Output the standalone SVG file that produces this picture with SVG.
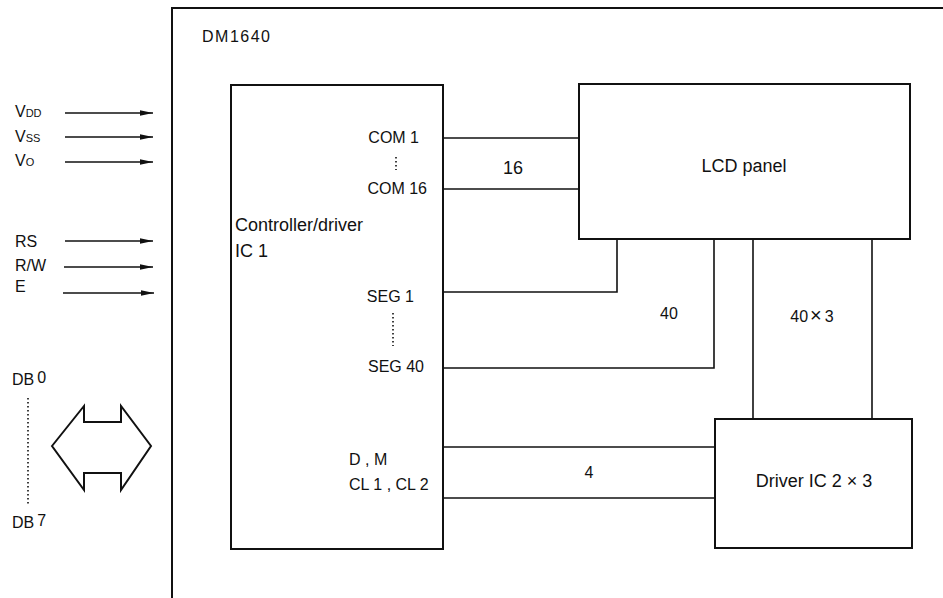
<svg xmlns="http://www.w3.org/2000/svg" width="943" height="598" viewBox="0 0 943 598">
<style>
text{font-family:"Liberation Sans",Arial,sans-serif;fill:#111}
.box{fill:none;stroke:#111;stroke-width:2}
.wire{fill:none;stroke:#111;stroke-width:1.6}
.big{font-size:18px}
.mid{font-size:16px}
.pin{font-size:16px}
.sub{font-size:11px}
.dots{fill:none;stroke:#111;stroke-width:1.6;stroke-dasharray:1.6 2.4}
</style>
<defs>
<marker id="ah" markerUnits="userSpaceOnUse" markerWidth="14" markerHeight="8" refX="13" refY="4" orient="auto">
<path d="M0,1.2 L13,4 L0,6.8 Z" fill="#111"/>
</marker>
</defs>
<rect width="943" height="598" fill="#fff"/>

<g id="module">
<path class="box" d="M172,598 L172,8 L943,8"/>
<text class="mid" x="202" y="42" letter-spacing="1.5">DM1640</text>
</g>

<g id="inputs">
<text class="mid" x="15" y="117">V<tspan class="sub">DD</tspan></text>
<text class="mid" x="15" y="142">V<tspan class="sub">SS</tspan></text>
<text class="mid" x="15" y="166">V<tspan class="sub">O</tspan></text>
<text class="mid" x="15" y="247">RS</text>
<text class="mid" x="15" y="271">R/W</text>
<text class="mid" x="15" y="292">E</text>
<text class="mid" x="12" y="385">DB<tspan dx="3" dy="-2">0</tspan></text>
<text class="mid" x="12" y="528">DB<tspan dx="3" dy="-2">7</tspan></text>
<line class="dots" x1="28" y1="398" x2="28" y2="505"/>
<polygon class="box" points="52,446 84,406 84,422 121,422 121,406 151,446 121,490 121,473 84,473 84,490"/>
</g>

<g id="controller">
<rect class="box" x="231" y="85" width="212" height="464"/>
<text class="big" x="235" y="231">Controller/driver</text>
<text class="big" x="235" y="257">IC 1</text>
<text class="pin" x="419" y="143" text-anchor="end">COM 1</text>
<line class="dots" x1="396" y1="157" x2="396" y2="170"/>
<text class="pin" x="427" y="194" text-anchor="end">COM 16</text>
<text class="pin" x="414" y="302" text-anchor="end">SEG 1</text>
<line class="dots" x1="393" y1="313" x2="393" y2="346"/>
<text class="pin" x="424" y="372" text-anchor="end">SEG 40</text>
<text class="pin" x="349" y="465">D , M</text>
<text class="pin" x="349" y="490">CL 1 , CL 2</text>
</g>

<g id="lcd">
<rect class="box" x="579" y="84" width="331" height="155"/>
<text class="big" x="744" y="172" text-anchor="middle">LCD panel</text>
</g>

<g id="driver">
<rect class="box" x="715" y="419" width="197" height="129"/>
<text class="big" x="814" y="487" text-anchor="middle">Driver IC 2 × 3</text>
</g>

<g id="connectors">
<line class="wire" x1="65" y1="113" x2="153" y2="113" marker-end="url(#ah)"/>
<line class="wire" x1="65" y1="137" x2="153" y2="137" marker-end="url(#ah)"/>
<line class="wire" x1="65" y1="162" x2="153" y2="162" marker-end="url(#ah)"/>
<line class="wire" x1="65" y1="241" x2="153" y2="241" marker-end="url(#ah)"/>
<line class="wire" x1="64" y1="267" x2="153" y2="267" marker-end="url(#ah)"/>
<line class="wire" x1="63" y1="293" x2="154" y2="293" marker-end="url(#ah)"/>
<line class="wire" x1="443" y1="138" x2="579" y2="138"/>
<line class="wire" x1="443" y1="189" x2="579" y2="189"/>
<text class="big" x="513" y="174" text-anchor="middle">16</text>
<path class="wire" d="M443,292 L617,292 L617,239"/>
<path class="wire" d="M443,368 L714,368 L714,239"/>
<text class="mid" x="669" y="319" text-anchor="middle">40</text>
<line class="wire" x1="753" y1="239" x2="753" y2="419"/>
<line class="wire" x1="872" y1="239" x2="872" y2="419"/>
<text class="mid" x="812" y="322" text-anchor="middle">40<tspan dx="2" font-size="20">×</tspan><tspan dx="3">3</tspan></text>
<line class="wire" x1="443" y1="447" x2="715" y2="447"/>
<line class="wire" x1="443" y1="498" x2="715" y2="498"/>
<text class="mid" x="589" y="478" text-anchor="middle">4</text>
</g>
</svg>
